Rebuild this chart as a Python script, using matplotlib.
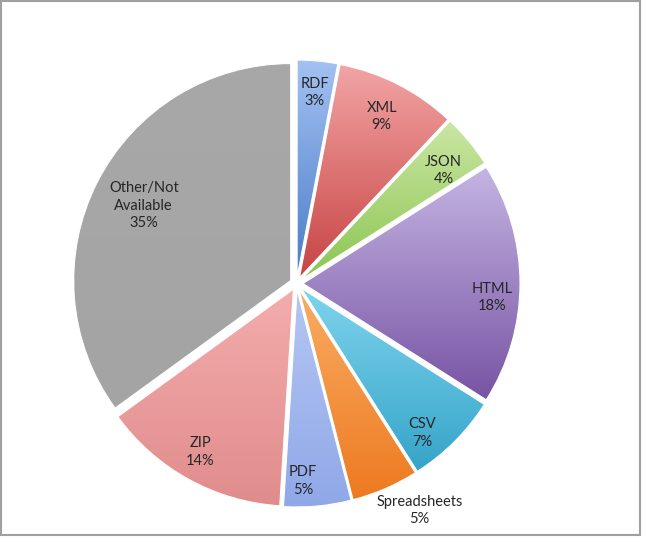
import matplotlib.pyplot as plt
import numpy as np
from matplotlib.patches import Rectangle
from matplotlib.colors import to_rgb

labels = ['RDF', 'XML', 'JSON', 'HTML', 'CSV', 'Spreadsheets', 'PDF', 'ZIP', 'Other/Not\nAvailable']
shares = [3, 9, 4, 18, 7, 5, 5, 14, 35]
top_colors = ['#a3c1f2', '#f2a4a4', '#cbe6a4', '#c4b4e2', '#7ed4ee', '#f8ac64', '#b4c6f2', '#f4acac', '#a8a8a8']
bottom_colors = ['#4a7cc8', '#c84444', '#8cc652', '#7854a4', '#36a4c8', '#ee7a20', '#90a8e8', '#e08c8c', '#a4a4a4']
# label placement: distance from pie centre (in radii) and angle nudge (deg)
label_dist = [0.883, 0.865, 0.855, 0.905, 0.90, 1.19, 0.91, 0.895, 0.79]
label_turn = [0, 0, -2, -4, -5, 5, -3.5, -1, 0]

W, H = 648, 542
cx, cy, R = 296.5, 258.5, 217

fig = plt.figure(figsize=(W / 100, H / 100), dpi=100)
ax = fig.add_axes([0, 0, 1, 1])

# pie explode is in data units, so scale by radius
wedges, _ = ax.pie(shares, center=(cx, cy), radius=R, startangle=90, counterclock=False,
                   explode=[0.03 * R] * len(shares), frame=True,
                   wedgeprops=dict(linewidth=0))
ax.set_xlim(0, W)
ax.set_ylim(0, H)
ax.set_aspect('equal')
ax.axis('off')

# gradient fill for each slice (light at top, dark at bottom)
for w, c1, c2 in zip(wedges, top_colors, bottom_colors):
    w.set_facecolor('none')
    bb = w.get_path().get_extents(w.get_patch_transform())
    t = np.linspace(0, 1, 64)[:, None]
    a, b = np.array(to_rgb(c1)), np.array(to_rgb(c2))
    img = (b[None, :] * (1 - t) + a[None, :] * t)[:, None, :]
    im = ax.imshow(img, extent=[bb.x0, bb.x1, bb.y0, bb.y1], origin='lower',
                   aspect='auto', interpolation='bilinear', zorder=1)
    im.set_clip_path(w)
    w.set_edgecolor('white')
    w.set_linewidth(0.8)
    w.set_zorder(2)

# labels
for w, lab, s, d, turn in zip(wedges, labels, shares, label_dist, label_turn):
    ang = np.deg2rad((w.theta1 + w.theta2) / 2 + turn)
    x = cx + d * R * np.cos(ang)
    y = cy + d * R * np.sin(ang)
    ax.text(x, y, lab + '\n' + str(s) + '%', ha='center', va='center',
            fontsize=10.5, family='Lato', color='#262626', linespacing=1.3, zorder=5)

# chart frame
ax.add_patch(Rectangle((1, 7), 639, 534, fill=False, edgecolor='#a0a0a0', linewidth=1.5, zorder=6))

fig.savefig('out.png', dpi=100)
